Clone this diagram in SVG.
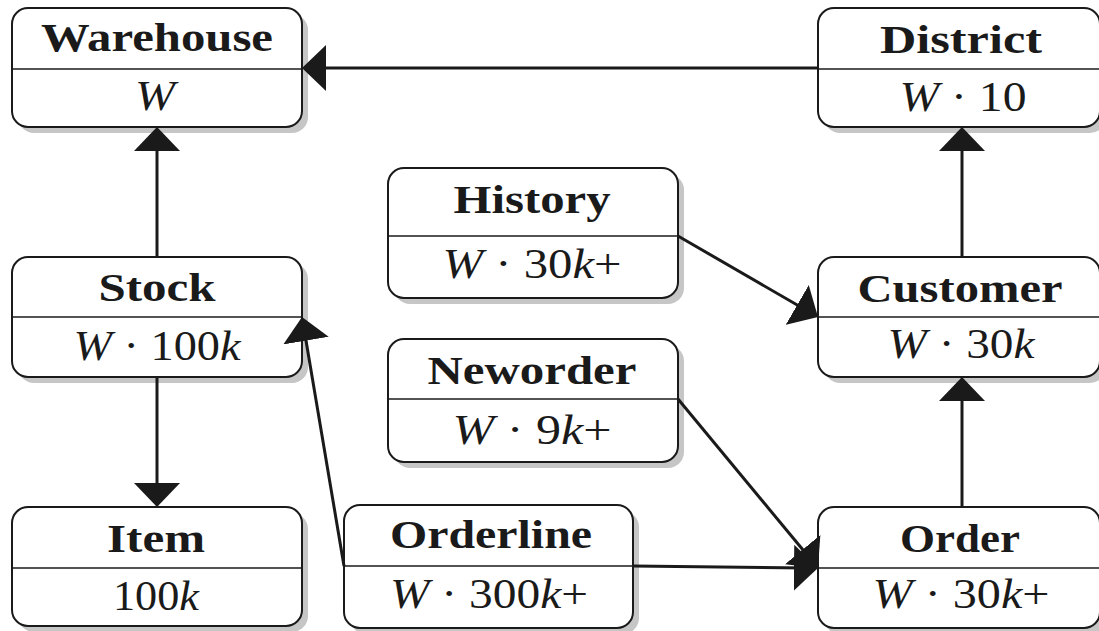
<svg xmlns="http://www.w3.org/2000/svg" width="1099" height="631" viewBox="0 0 1099 631">
  <style>
    .shadow { fill: #c6c6c6; stroke: none; }
    .box { fill: #ffffff; stroke: #1a1a1a; stroke-width: 2; }
    .div { stroke: #1a1a1a; stroke-width: 1.6; }
    .title { font-family: "Liberation Serif", serif; font-weight: bold; font-size: 40px; fill: #1a1a1a; text-anchor: middle; }
    .val { font-family: "Liberation Serif", serif; font-size: 42px; fill: #1a1a1a; text-anchor: middle; }
    .i { font-style: italic; }
    .edge { fill: none; stroke: #1a1a1a; stroke-width: 3; marker-end: url(#head); }
  </style>
  <defs>
    <marker id="head" viewBox="0 -23 24 46" refX="12" refY="0" markerWidth="24" markerHeight="46" markerUnits="userSpaceOnUse" orient="auto">
      <path d="M0,-23 L24,0 L0,23 z" fill="#1a1a1a"/>
    </marker>
  </defs>

  <rect width="1099" height="631" fill="#ffffff"/>

  <!-- Warehouse -->
  <g id="warehouse">
    <rect class="shadow" x="18" y="14" width="290" height="119" rx="16"/>
    <rect class="box" x="12" y="8" width="290" height="119" rx="16"/>
    <line class="div" x1="12" y1="69" x2="302" y2="69"/>
    <text class="title" x="157" y="51" textLength="232" lengthAdjust="spacingAndGlyphs">Warehouse</text>
    <text class="val" x="155" y="110" textLength="40" lengthAdjust="spacingAndGlyphs"><tspan class="i">W</tspan></text>
  </g>

  <!-- District -->
  <g id="district">
    <rect class="shadow" x="824" y="14" width="282" height="119" rx="16"/>
    <rect class="box" x="818" y="8" width="282" height="119" rx="16"/>
    <line class="div" x1="818" y1="69" x2="1100" y2="69"/>
    <text class="title" x="961" y="53" textLength="162" lengthAdjust="spacingAndGlyphs">District</text>
    <text class="val" x="963" y="111" textLength="127" lengthAdjust="spacingAndGlyphs"><tspan class="i">W</tspan> · 10</text>
  </g>

  <!-- History -->
  <g id="history">
    <rect class="shadow" x="394" y="174" width="290" height="130" rx="16"/>
    <rect class="box" x="388" y="168" width="290" height="130" rx="16"/>
    <line class="div" x1="388" y1="236" x2="678" y2="236"/>
    <text class="title" x="532" y="213" textLength="157" lengthAdjust="spacingAndGlyphs">History</text>
    <text class="val" x="532" y="278" textLength="179" lengthAdjust="spacingAndGlyphs"><tspan class="i">W</tspan> · 30<tspan class="i">k</tspan>+</text>
  </g>

  <!-- Stock -->
  <g id="stock">
    <rect class="shadow" x="18" y="263" width="290" height="120" rx="16"/>
    <rect class="box" x="12" y="257" width="290" height="120" rx="16"/>
    <line class="div" x1="12" y1="317" x2="302" y2="317"/>
    <text class="title" x="157" y="301" textLength="117" lengthAdjust="spacingAndGlyphs">Stock</text>
    <text class="val" x="157" y="360" textLength="167" lengthAdjust="spacingAndGlyphs"><tspan class="i">W</tspan> · 100<tspan class="i">k</tspan></text>
  </g>

  <!-- Customer -->
  <g id="customer">
    <rect class="shadow" x="824" y="263" width="282" height="120" rx="16"/>
    <rect class="box" x="818" y="257" width="282" height="120" rx="16"/>
    <line class="div" x1="818" y1="317" x2="1100" y2="317"/>
    <text class="title" x="960" y="302" textLength="205" lengthAdjust="spacingAndGlyphs">Customer</text>
    <text class="val" x="961" y="358" textLength="147" lengthAdjust="spacingAndGlyphs"><tspan class="i">W</tspan> · 30<tspan class="i">k</tspan></text>
  </g>

  <!-- Neworder -->
  <g id="neworder">
    <rect class="shadow" x="394" y="345" width="290" height="123" rx="16"/>
    <rect class="box" x="388" y="339" width="290" height="123" rx="16"/>
    <line class="div" x1="388" y1="399" x2="678" y2="399"/>
    <text class="title" x="532" y="384" textLength="209" lengthAdjust="spacingAndGlyphs">Neworder</text>
    <text class="val" x="532" y="444" textLength="159" lengthAdjust="spacingAndGlyphs"><tspan class="i">W</tspan> · 9<tspan class="i">k</tspan>+</text>
  </g>

  <!-- Item -->
  <g id="item">
    <rect class="shadow" x="18" y="513" width="290" height="119" rx="16"/>
    <rect class="box" x="12" y="507" width="290" height="119" rx="16"/>
    <line class="div" x1="12" y1="568" x2="302" y2="568"/>
    <text class="title" x="156" y="552" textLength="98" lengthAdjust="spacingAndGlyphs">Item</text>
    <text class="val" x="156" y="610" textLength="86" lengthAdjust="spacingAndGlyphs">100<tspan class="i">k</tspan></text>
  </g>

  <!-- Orderline -->
  <g id="orderline">
    <rect class="shadow" x="350" y="511" width="289" height="123" rx="16"/>
    <rect class="box" x="344" y="505" width="289" height="123" rx="16"/>
    <line class="div" x1="344" y1="566" x2="633" y2="566"/>
    <text class="title" x="491" y="548" textLength="202" lengthAdjust="spacingAndGlyphs">Orderline</text>
    <text class="val" x="489" y="608" textLength="198" lengthAdjust="spacingAndGlyphs"><tspan class="i">W</tspan> · 300<tspan class="i">k</tspan>+</text>
  </g>

  <!-- Order -->
  <g id="order">
    <rect class="shadow" x="824" y="513" width="282" height="121" rx="16"/>
    <rect class="box" x="818" y="507" width="282" height="121" rx="16"/>
    <line class="div" x1="818" y1="568" x2="1100" y2="568"/>
    <text class="title" x="960" y="552" textLength="120" lengthAdjust="spacingAndGlyphs">Order</text>
    <text class="val" x="961" y="608" textLength="177" lengthAdjust="spacingAndGlyphs"><tspan class="i">W</tspan> · 30<tspan class="i">k</tspan>+</text>
  </g>

  <!-- Connectors: each line stops 12px short of the tip, the marker supplies the head -->
  <g id="connectors">
    <path class="edge" d="M818,68 L314,68"/>
    <path class="edge" d="M157,257 L157,139"/>
    <path class="edge" d="M157,377 L157,495"/>
    <path class="edge" d="M344,566 L304,328.8"/>
    <path class="edge" d="M678,236 L807.6,311"/>
    <path class="edge" d="M678,399 L810.3,558.8"/>
    <path class="edge" d="M633,566 L806,567.9"/>
    <path class="edge" d="M962,257 L962,139"/>
    <path class="edge" d="M962,507 L962,389"/>
  </g>
</svg>
